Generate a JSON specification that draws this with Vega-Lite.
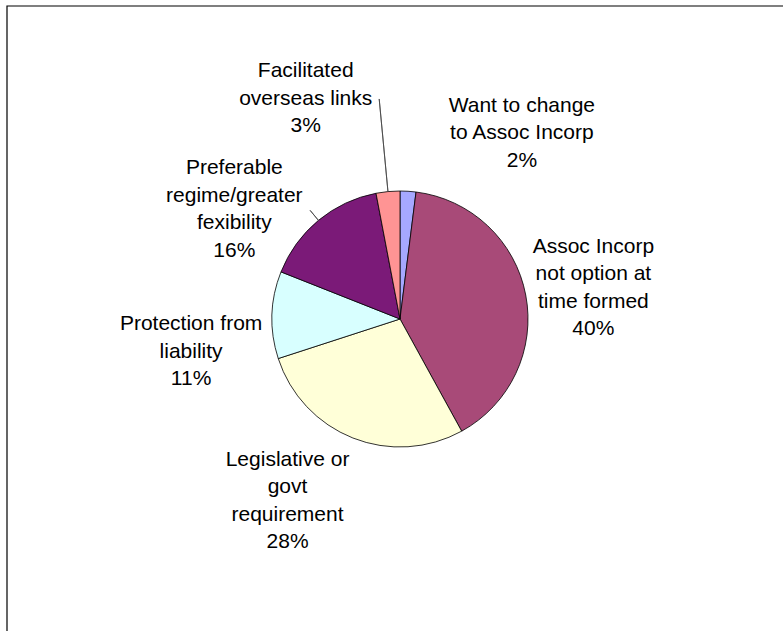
{
  "$schema": "https://vega.github.io/schema/vega-lite/v6.json",
  "width": 783,
  "height": 631,
  "autosize": {"type": "fit", "contains": "padding"},
  "padding": {"left": 6, "top": 5, "right": -11, "bottom": -2},
  "background": "white",
  "config": {"view": {"stroke": null}, "font": "Liberation Sans"},
  "data": {"values": [
    {"label": "Want to change|to Assoc Incorp", "value": 2, "ord": 1},
    {"label": "Assoc Incorp|not option at|time formed", "value": 40, "ord": 2},
    {"label": "Legislative or|govt|requirement", "value": 28, "ord": 3},
    {"label": "Protection from|liability", "value": 11, "ord": 4},
    {"label": "Preferable|regime/greater|fexibility", "value": 16, "ord": 5},
    {"label": "Facilitated|overseas links", "value": 3, "ord": 6}
  ]},
  "transform": [
    {"stack": "value", "sortby": [{"field": "ord", "order": "ascending"}], "groupby": [], "as": ["v0", "v1"]},
    {"calculate": "(datum.v0 + datum.v1) / 2", "as": "mid"},
    {"calculate": "datum.label + '|' + datum.value + '%'", "as": "txt"}
  ],
  "layer": [
    {
      "data": {"values": [{"frame": 1}]},
      "transform": [],
      "mark": {"type": "rect", "fill": null, "stroke": "#000", "strokeWidth": 1.2},
      "encoding": {}
    },
    {
      "mark": {"type": "arc", "outerRadius": 128, "stroke": "#000", "strokeWidth": 0.8},
      "encoding": {
        "theta": {"field": "v0", "type": "quantitative", "scale": {"domain": [0, 100]}},
        "theta2": {"field": "v1"},
        "color": {
          "field": "label", "type": "nominal", "legend": null,
          "scale": {
            "domain": ["Want to change|to Assoc Incorp", "Assoc Incorp|not option at|time formed", "Legislative or|govt|requirement", "Protection from|liability", "Preferable|regime/greater|fexibility", "Facilitated|overseas links"],
            "range": ["#A6A8FF", "#A84A78", "#FFFFD8", "#D8FFFF", "#7B1A78", "#FF9494"]
          }
        }
      }
    },
    {
      "transform": [{"filter": "datum.ord == 6"}],
      "mark": {"type": "arc", "radius": 221, "radius2": 128, "fill": null, "stroke": "#444", "strokeWidth": 0.8},
      "encoding": {
        "theta": {"field": "mid", "type": "quantitative", "scale": {"domain": [0, 100]}},
        "theta2": {"field": "mid"}
      }
    },
    {
      "transform": [{"filter": "datum.ord == 5"}],
      "mark": {"type": "arc", "radius": 141, "radius2": 128, "fill": null, "stroke": "#444", "strokeWidth": 0.8},
      "encoding": {
        "theta": {"field": "mid", "type": "quantitative", "scale": {"domain": [0, 100]}},
        "theta2": {"field": "mid"}
      }
    },
    {
      "transform": [{"filter": "datum.ord == 1"}],
      "mark": {"type": "text", "radius": 205, "dx": 109, "dy": -8.5, "fontSize": 21, "lineHeight": 27.5, "lineBreak": "|", "align": "center", "baseline": "middle", "color": "#000"},
      "encoding": {"theta": {"field": "mid", "type": "quantitative", "scale": {"domain": [0, 100]}}, "text": {"field": "txt"}}
    },
    {
      "transform": [{"filter": "datum.ord == 2"}],
      "mark": {"type": "text", "radius": 205, "dx": -8, "dy": -34, "fontSize": 21, "lineHeight": 27.5, "lineBreak": "|", "align": "center", "baseline": "middle", "color": "#000"},
      "encoding": {"theta": {"field": "mid", "type": "quantitative", "scale": {"domain": [0, 100]}}, "text": {"field": "txt"}}
    },
    {
      "transform": [{"filter": "datum.ord == 3"}],
      "mark": {"type": "text", "radius": 205, "dx": -37, "dy": -50, "fontSize": 21, "lineHeight": 27.5, "lineBreak": "|", "align": "center", "baseline": "middle", "color": "#000"},
      "encoding": {"theta": {"field": "mid", "type": "quantitative", "scale": {"domain": [0, 100]}}, "text": {"field": "txt"}}
    },
    {
      "transform": [{"filter": "datum.ord == 4"}],
      "mark": {"type": "text", "radius": 205, "dx": -4, "dy": 11.5, "fontSize": 21, "lineHeight": 27.5, "lineBreak": "|", "align": "center", "baseline": "middle", "color": "#000"},
      "encoding": {"theta": {"field": "mid", "type": "quantitative", "scale": {"domain": [0, 100]}}, "text": {"field": "txt"}}
    },
    {
      "transform": [{"filter": "datum.ord == 5"}],
      "mark": {"type": "text", "radius": 205, "dx": -35, "dy": 7, "fontSize": 21, "lineHeight": 27.5, "lineBreak": "|", "align": "center", "baseline": "middle", "color": "#000"},
      "encoding": {"theta": {"field": "mid", "type": "quantitative", "scale": {"domain": [0, 100]}}, "text": {"field": "txt"}}
    },
    {
      "transform": [{"filter": "datum.ord == 6"}],
      "mark": {"type": "text", "radius": 205, "dx": -75, "dy": -43.5, "fontSize": 21, "lineHeight": 27.5, "lineBreak": "|", "align": "center", "baseline": "middle", "color": "#000"},
      "encoding": {"theta": {"field": "mid", "type": "quantitative", "scale": {"domain": [0, 100]}}, "text": {"field": "txt"}}
    }
  ]
}
